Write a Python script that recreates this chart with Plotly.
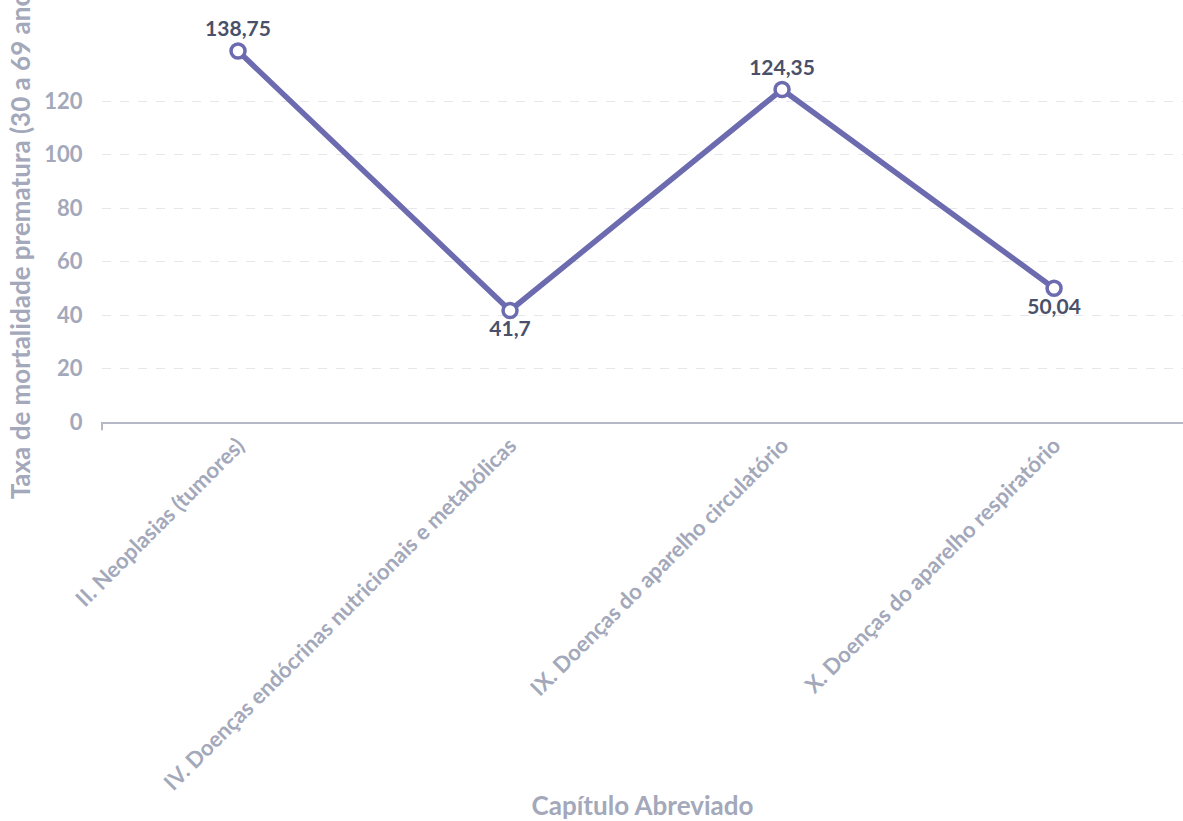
import plotly.graph_objects as go

# Taxa de mortalidade prematura por capítulo da CID-10
capitulos = [
    "II. Neoplasias (tumores)",
    "IV. Doenças endócrinas nutricionais e metabólicas",
    "IX. Doenças do aparelho circulatório",
    "X. Doenças do aparelho respiratório",
]
taxas = [138.75, 41.7, 124.35, 50.04]
rotulos = ["138,75", "41,7", "124,35", "50,04"]
posicoes = ["top center", "bottom center", "top center", "bottom center"]
marcas_y = [0, 20, 40, 60, 80, 100, 120]

FONTE = "Lato, 'Open Sans', sans-serif"
COR_LINHA = "#6C6BAF"
COR_EIXO = "#A3A8BA"
COR_ROTULO = "#4A5069"

fig = go.Figure(
    go.Scatter(
        x=capitulos,
        y=taxas,
        mode="lines+markers+text",
        text=rotulos,
        textposition=posicoes,
        textfont=dict(family=FONTE, size=21, color=COR_ROTULO, weight="bold"),
        line=dict(color=COR_LINHA, width=5.5),
        marker=dict(size=14, color="white", line=dict(color=COR_LINHA, width=3.5)),
        cliponaxis=False,
        hoverinfo="x+y",
    )
)

fig.update_layout(
    width=1183,
    height=821,
    margin=dict(l=102, r=0, t=51, b=394),
    plot_bgcolor="white",
    paper_bgcolor="white",
    showlegend=False,
    font=dict(family=FONTE, color=COR_EIXO),
)

fig.update_xaxes(
    type="category",
    range=[-0.5, 3.474],
    tickangle=-45,
    tickfont=dict(family=FONTE, size=22, color=COR_EIXO, weight="bold"),
    showgrid=False,
    showline=True,
    linecolor="#B5B9C6",
    linewidth=2,
    ticks="",
    title=dict(
        text="Capítulo Abreviado",
        font=dict(family=FONTE, size=26, color=COR_EIXO, weight="bold"),
        standoff=8,
    ),
)

fig.update_yaxes(
    range=[0, 138.75],
    tickvals=marcas_y,
    tickfont=dict(family=FONTE, size=22, color=COR_EIXO, weight="bold"),
    showgrid=True,
    gridcolor="#E6E7EC",
    griddash="dash",
    gridwidth=1,
    zeroline=False,
    showline=False,
    ticks="outside",
    ticklen=14,
    tickcolor="white",
    title=dict(
        text="Taxa de mortalidade prematura (30 a 69 anos)",
        font=dict(family=FONTE, size=26, color=COR_EIXO, weight="bold"),
        standoff=6,
    ),
)

# pequena marca vertical no início do eixo x
fig.add_shape(
    type="line", xref="paper", yref="paper",
    x0=0, x1=0, y0=0, y1=-0.022,
    line=dict(color="#B5B9C6", width=2),
)

fig.write_html("out.html")
